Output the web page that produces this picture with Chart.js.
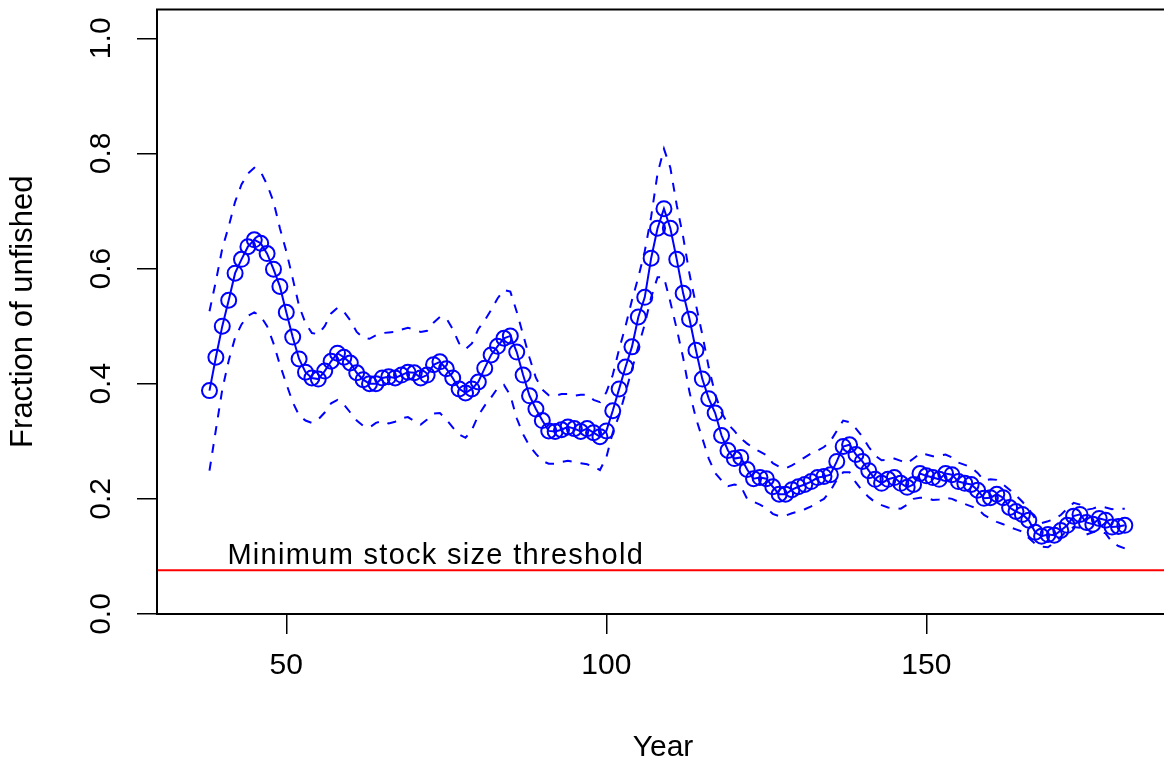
<!DOCTYPE html>
<html>
<head>
<meta charset="utf-8">
<script src="https://cdn.jsdelivr.net/npm/chart.js@4.4.1/dist/chart.umd.min.js"></script>
<style>
  html,body{margin:0;padding:0;background:#fff;overflow:hidden;width:1164px;height:764px;}
  #wrap{position:absolute;left:0;top:0;width:1164px;height:764px;overflow:hidden;}
  #c{position:absolute;left:0;top:0;}
</style>
</head>
<body>
<div id="wrap"><canvas id="c" width="1190" height="764"></canvas></div>
<script>
/* ---- data ---- */
const years = [
  38,39,40,41,42,43,44,45,46,47,48,49,50,51,52,53,54,55,56,57,
  58,59,60,61,62,63,64,65,66,67,68,69,70,71,72,73,74,75,76,77,
  78,79,80,81,82,83,84,85,86,87,88,89,90,91,92,93,94,95,96,97,
  98,99,100,101,102,103,104,105,106,107,108,109,110,111,112,113,114,115,116,117,
  118,119,120,121,122,123,124,125,126,127,128,129,130,131,132,133,134,135,136,137,
  138,139,140,141,142,143,144,145,146,147,148,149,150,151,152,153,154,155,156,157,
  158,159,160,161,162,163,164,165,166,167,168,169,170,171,172,173,174,175,176,177,
  178,179,180,181];
const fracMid = [
  0.388,0.446,0.500,0.545,0.592,0.616,0.638,0.650,0.644,0.626,
  0.599,0.569,0.524,0.481,0.443,0.420,0.410,0.408,0.422,0.439,
  0.453,0.446,0.436,0.419,0.407,0.400,0.400,0.410,0.412,0.410,
  0.415,0.420,0.419,0.410,0.415,0.433,0.438,0.426,0.410,0.391,
  0.384,0.391,0.403,0.427,0.450,0.465,0.479,0.483,0.455,0.415,
  0.379,0.356,0.336,0.318,0.317,0.320,0.325,0.322,0.317,0.322,
  0.315,0.308,0.318,0.353,0.391,0.429,0.464,0.516,0.550,0.618,
  0.670,0.704,0.670,0.616,0.557,0.512,0.458,0.408,0.374,0.349,
  0.310,0.284,0.270,0.272,0.251,0.235,0.237,0.235,0.221,0.208,
  0.208,0.216,0.221,0.225,0.230,0.237,0.239,0.242,0.265,0.291,
  0.294,0.277,0.265,0.249,0.234,0.227,0.234,0.237,0.227,0.220,
  0.225,0.244,0.240,0.237,0.234,0.244,0.242,0.230,0.227,0.225,
  0.215,0.201,0.202,0.208,0.202,0.185,0.178,0.173,0.163,0.142,
  0.135,0.138,0.137,0.145,0.154,0.170,0.173,0.159,0.156,0.166,
  0.163,0.151,0.152,0.154];
const fracUpper = [
  0.526,0.578,0.635,0.673,0.716,0.746,0.765,0.775,0.768,0.746,
  0.716,0.670,0.630,0.583,0.535,0.505,0.488,0.486,0.500,0.522,
  0.532,0.525,0.510,0.490,0.480,0.478,0.484,0.488,0.489,0.490,
  0.494,0.497,0.494,0.490,0.492,0.506,0.516,0.514,0.495,0.470,
  0.460,0.470,0.495,0.510,0.528,0.548,0.563,0.560,0.525,0.485,
  0.445,0.410,0.390,0.380,0.379,0.382,0.382,0.379,0.381,0.381,
  0.372,0.368,0.385,0.415,0.460,0.500,0.545,0.585,0.630,0.690,
  0.765,0.808,0.775,0.710,0.655,0.590,0.537,0.485,0.428,0.382,
  0.350,0.330,0.318,0.305,0.296,0.288,0.282,0.276,0.262,0.256,
  0.253,0.258,0.265,0.272,0.279,0.284,0.290,0.300,0.318,0.336,
  0.333,0.322,0.308,0.290,0.275,0.267,0.268,0.270,0.266,0.262,
  0.270,0.279,0.277,0.274,0.275,0.277,0.272,0.263,0.259,0.255,
  0.245,0.232,0.234,0.233,0.225,0.216,0.206,0.195,0.182,0.166,
  0.158,0.161,0.165,0.172,0.183,0.193,0.190,0.181,0.183,0.187,
  0.185,0.182,0.183,0.183];
const fracLower = [
  0.249,0.320,0.390,0.440,0.480,0.503,0.518,0.524,0.517,0.500,
  0.470,0.433,0.400,0.368,0.345,0.336,0.332,0.338,0.350,0.366,
  0.372,0.364,0.350,0.336,0.327,0.324,0.332,0.335,0.331,0.334,
  0.340,0.342,0.335,0.329,0.338,0.348,0.349,0.338,0.324,0.312,
  0.306,0.320,0.345,0.362,0.376,0.392,0.398,0.380,0.340,0.312,
  0.292,0.278,0.266,0.261,0.261,0.264,0.266,0.264,0.262,0.260,
  0.256,0.250,0.272,0.315,0.345,0.385,0.425,0.465,0.503,0.550,
  0.585,0.585,0.542,0.495,0.445,0.385,0.340,0.305,0.270,0.245,
  0.232,0.222,0.225,0.222,0.200,0.195,0.190,0.184,0.174,0.170,
  0.171,0.175,0.178,0.182,0.187,0.194,0.200,0.214,0.233,0.246,
  0.246,0.228,0.214,0.203,0.194,0.189,0.185,0.184,0.183,0.190,
  0.200,0.202,0.202,0.198,0.199,0.202,0.200,0.195,0.191,0.187,
  0.183,0.172,0.166,0.160,0.156,0.151,0.147,0.143,0.132,0.122,
  0.117,0.116,0.124,0.134,0.145,0.151,0.150,0.138,0.142,0.144,
  0.140,0.125,0.118,0.114];
const mssT = 0.076;                 // minimum stock size threshold
const mssLabel = 'Minimum stock size threshold';
const mssLabelX = 40.8;
const xTicks = [50, 100, 150];
const yTicks = [0, 0.2, 0.4, 0.6, 0.8, 1.0];
const xRange = [29.8, 189.7];
const yRange = [0, 1.05];

/* ---- chart ---- */
const FONT = '"Liberation Sans", Arial, Helvetica, sans-serif';
const BLUE = '#0000ff';
const pts = ys => years.map((x,i)=>({x, y:ys[i]}));

const boxPlugin = {
  id:'box',
  afterDraw(chart){
    const {ctx, chartArea:a, scales} = chart;
    ctx.save();
    ctx.strokeStyle = '#000'; ctx.lineWidth = 2;
    ctx.strokeRect(a.left, a.top, a.right-a.left, a.bottom-a.top);
    // threshold label
    ctx.fillStyle = '#000';
    ctx.font = '29px ' + FONT;
    if('letterSpacing' in ctx) ctx.letterSpacing = '1.3px';
    ctx.textBaseline = 'alphabetic'; ctx.textAlign = 'left';
    ctx.fillText(mssLabel, scales.x.getPixelForValue(mssLabelX), scales.y.getPixelForValue(mssT) - 6);
    ctx.restore();
  }
};

new Chart(document.getElementById('c'), {
  type:'line',
  data:{ datasets:[
    {data:[{x:xRange[0], y:mssT},{x:xRange[1], y:mssT}], borderColor:'#ff0000', borderWidth:2, pointRadius:0},
    {data:pts(fracUpper), borderColor:BLUE, borderWidth:2, borderDash:[9,9], pointRadius:0},
    {data:pts(fracLower), borderColor:BLUE, borderWidth:2, borderDash:[9,9], pointRadius:0},
    {data:pts(fracMid), borderColor:BLUE, borderWidth:2, pointRadius:7.5, pointBorderWidth:2,
     pointBorderColor:BLUE, pointBackgroundColor:'rgba(0,0,0,0)', pointStyle:'circle'}
  ]},
  options:{
    responsive:false, animation:false, devicePixelRatio:1,
    layout:{padding:{left:0, right:5, top:7, bottom:0}},
    plugins:{legend:{display:false}, tooltip:{enabled:false}},
    elements:{line:{tension:0}},
    scales:{
      x:{type:'linear', min:xRange[0], max:xRange[1],
        afterBuildTicks:s=>{ s.ticks = xTicks.map(v=>({value:v})); },
        afterFit:s=>{ s.height = 150; s.paddingLeft = 0; s.paddingRight = 0; },
        ticks:{color:'#000', font:{family:FONT, size:30}, padding:14, maxRotation:0, autoSkip:false,
          callback:v=>String(v)},
        grid:{drawOnChartArea:false, drawTicks:true, tickLength:20, color:'#000', lineWidth:1.5},
        border:{display:true, color:'#000', width:2},
        title:{display:false}
      },
      y:{type:'linear', min:yRange[0], max:yRange[1],
        afterBuildTicks:s=>{ s.ticks = yTicks.map(v=>({value:v})); },
        afterFit:s=>{ s.width = 157; s.paddingTop = 0; s.paddingBottom = 0; },
        ticks:{color:'#000', font:{family:FONT, size:30}, padding:14, minRotation:90, maxRotation:90,
          crossAlign:'center', autoSkip:false, callback:v=>v.toFixed(1)},
        grid:{drawOnChartArea:false, drawTicks:true, tickLength:20, color:'#000', lineWidth:1.5},
        border:{display:true, color:'#000', width:2},
        title:{display:true, text:'Fraction of unfished', color:'#000', font:{family:FONT, size:31}, padding:{top:5, bottom:0}}
      }
    }
  },
  plugins:[boxPlugin, {
    id:'xtitle',
    afterDraw(chart){
      // x-axis title centred on the visible plot region, as in the reference
      const ctx = chart.ctx;
      ctx.save();
      ctx.fillStyle = '#000'; ctx.font = '30px ' + FONT;
      ctx.textAlign = 'center'; ctx.textBaseline = 'middle';
      ctx.fillText('Year', (chart.chartArea.left + 1169) / 2, 748);
      ctx.restore();
    }
  }]
});
</script>
</body>
</html>
